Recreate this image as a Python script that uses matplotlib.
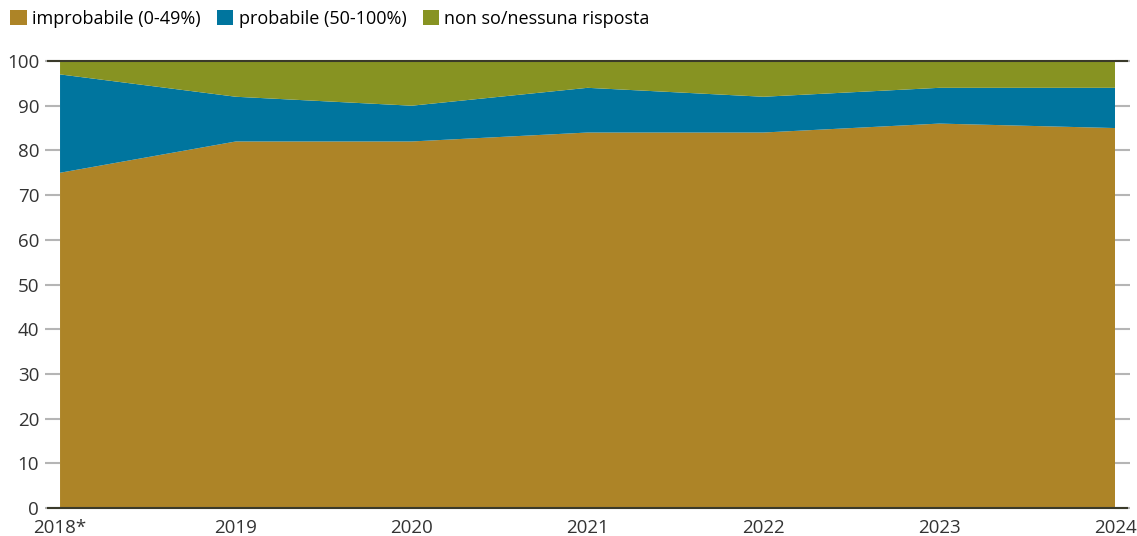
import matplotlib.pyplot as plt
import numpy as np

plt.rcParams['font.family'] = ['Open Sans', 'DejaVu Sans']

# Data (percent)
years = ['2018*', '2019', '2020', '2021', '2022', '2023', '2024']
improbabile = [75, 82, 82, 84, 84, 86, 85]
probabile = [22, 10, 8, 10, 8, 8, 9]
non_so = [3, 8, 10, 6, 8, 6, 6]

labels = ['improbabile (0-49%)', 'probabile (50-100%)', 'non so/nessuna risposta']
colors = ['#ad8427', '#00759e', '#879322']

x = np.arange(len(years))

fig = plt.figure(figsize=(11.37, 5.36), dpi=100)
ax = fig.add_axes([0.0528, 0.0522, 0.928, 0.834])

ax.stackplot(x, improbabile, probabile, non_so, colors=colors, labels=labels, linewidth=0)

ax.set_xlim(0, len(years) - 1)
ax.set_ylim(0, 100)
ax.set_yticks(range(0, 101, 10))
ax.set_xticks(x)
ax.set_xticklabels(years)

for s in ax.spines.values():
    s.set_visible(False)

# dark lines at 0 and 100 that run across the tick marks
for yv in (0, 100):
    ax.axhline(yv, xmin=-0.011, xmax=1.011, color='#3a3a2a', lw=1.5, clip_on=False, zorder=5)

ax.tick_params(axis='y', which='both', left=True, right=True, length=11, width=1.5,
               color='#b5b5b5', labelsize=13.5, labelcolor='#333333', pad=4)
ax.tick_params(axis='x', length=0, labelsize=13.5, labelcolor='#333333', pad=8)

fig.legend(loc='upper left', bbox_to_anchor=(-0.002, 1.005), ncol=3, frameon=False,
           fontsize=13, handlelength=0.9, handleheight=0.9, handletextpad=0.3,
           columnspacing=0.9, borderaxespad=0.3)

fig.savefig('out.png', dpi=100)
